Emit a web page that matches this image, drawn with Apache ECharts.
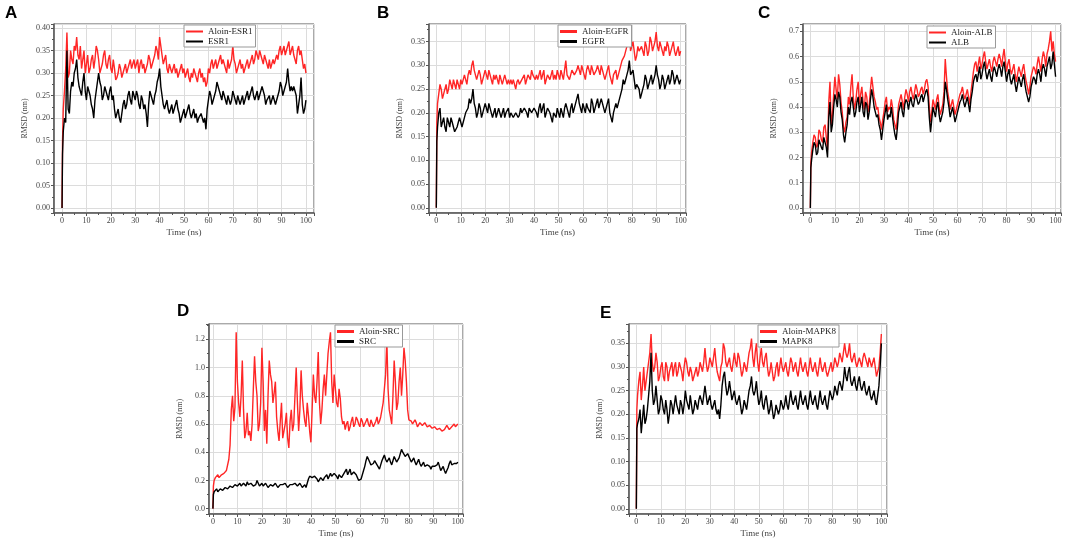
<!DOCTYPE html>
<html>
<head>
<meta charset="utf-8">
<script src="https://cdn.jsdelivr.net/npm/echarts@6/dist/echarts.min.js"></script>
<style>
html, body { margin: 0; padding: 0; background: #fff; }
#main { width: 1065px; height: 540px; }
</style>
</head>
<body>
<div id="main"></div>
<script>
// time axis (ns), shared by every trace
var time = [0, 0.2,
  0.5, 1, 1.5, 2, 2.5, 3, 3.5, 4, 4.5, 5, 5.5, 6, 6.5, 7, 7.5, 8, 8.5, 9, 9.5, 10,
  10.5, 11, 11.5, 12, 12.5, 13, 13.5, 14, 14.5, 15, 15.5, 16, 16.5, 17, 17.5, 18, 18.5, 19, 19.5, 20,
  20.5, 21, 21.5, 22, 22.5, 23, 23.5, 24, 24.5, 25, 25.5, 26, 26.5, 27, 27.5, 28, 28.5, 29, 29.5, 30,
  30.5, 31, 31.5, 32, 32.5, 33, 33.5, 34, 34.5, 35, 35.5, 36, 36.5, 37, 37.5, 38, 38.5, 39, 39.5, 40,
  40.5, 41, 41.5, 42, 42.5, 43, 43.5, 44, 44.5, 45, 45.5, 46, 46.5, 47, 47.5, 48, 48.5, 49, 49.5, 50,
  50.5, 51, 51.5, 52, 52.5, 53, 53.5, 54, 54.5, 55, 55.5, 56, 56.5, 57, 57.5, 58, 58.5, 59, 59.5, 60,
  60.5, 61, 61.5, 62, 62.5, 63, 63.5, 64, 64.5, 65, 65.5, 66, 66.5, 67, 67.5, 68, 68.5, 69, 69.5, 70,
  70.5, 71, 71.5, 72, 72.5, 73, 73.5, 74, 74.5, 75, 75.5, 76, 76.5, 77, 77.5, 78, 78.5, 79, 79.5, 80,
  80.5, 81, 81.5, 82, 82.5, 83, 83.5, 84, 84.5, 85, 85.5, 86, 86.5, 87, 87.5, 88, 88.5, 89, 89.5, 90,
  90.5, 91, 91.5, 92, 92.5, 93, 93.5, 94, 94.5, 95, 95.5, 96, 96.5, 97, 97.5, 98, 98.5, 99, 99.5, 100];

// A
var aloinESR1 = [0, 0.15,
  0.22, 0.26, 0.31, 0.39, 0.29, 0.30, 0.35, 0.33, 0.32, 0.36, 0.35, 0.38, 0.34, 0.33, 0.36, 0.31, 0.33, 0.35, 0.30, 0.32,
  0.34, 0.30, 0.31, 0.33, 0.34, 0.31, 0.33, 0.36, 0.35, 0.33, 0.30, 0.31, 0.32, 0.34, 0.35, 0.32, 0.31, 0.33, 0.34, 0.31,
  0.30, 0.33, 0.31, 0.285, 0.29, 0.30, 0.32, 0.31, 0.29, 0.30, 0.31, 0.32, 0.30, 0.31, 0.32, 0.33, 0.31, 0.32, 0.33, 0.31,
  0.32, 0.33, 0.30, 0.32, 0.33, 0.31, 0.32, 0.30, 0.31, 0.32, 0.34, 0.33, 0.31, 0.32, 0.33, 0.34, 0.36, 0.35, 0.33, 0.38,
  0.36, 0.34, 0.32, 0.33, 0.34, 0.31, 0.30, 0.32, 0.31, 0.30, 0.31, 0.32, 0.30, 0.31, 0.29, 0.30, 0.31, 0.32, 0.30, 0.31,
  0.29, 0.30, 0.31, 0.29, 0.28, 0.30, 0.29, 0.31, 0.30, 0.29, 0.28, 0.30, 0.31, 0.29, 0.30, 0.28, 0.29, 0.27, 0.28, 0.31,
  0.30, 0.32, 0.33, 0.31, 0.32, 0.33, 0.31, 0.32, 0.33, 0.34, 0.32, 0.33, 0.32, 0.31, 0.30, 0.33, 0.31, 0.32, 0.33, 0.36,
  0.33, 0.32, 0.30, 0.31, 0.32, 0.33, 0.31, 0.32, 0.30, 0.31, 0.32, 0.33, 0.31, 0.32, 0.33, 0.34, 0.32, 0.33, 0.35, 0.34,
  0.33, 0.35, 0.34, 0.33, 0.32, 0.34, 0.33, 0.32, 0.31, 0.33, 0.31, 0.32, 0.33, 0.32, 0.33, 0.34, 0.33, 0.35, 0.36, 0.34,
  0.35, 0.36, 0.34, 0.35, 0.36, 0.37, 0.34, 0.35, 0.36, 0.34, 0.33, 0.32, 0.35, 0.36, 0.34, 0.35, 0.33, 0.31, 0.32, 0.30];
var esr1 = [0, 0.12,
  0.17, 0.20, 0.19, 0.35, 0.22, 0.21, 0.26, 0.28, 0.27, 0.30, 0.31, 0.33, 0.29, 0.27, 0.26, 0.25, 0.28, 0.30, 0.26, 0.24,
  0.27, 0.27, 0.25, 0.23, 0.22, 0.20, 0.24, 0.26, 0.28, 0.30, 0.28, 0.27, 0.24, 0.25, 0.27, 0.26, 0.25, 0.24, 0.26, 0.27,
  0.24, 0.25, 0.22, 0.20, 0.21, 0.22, 0.20, 0.19, 0.21, 0.23, 0.24, 0.22, 0.23, 0.25, 0.26, 0.24, 0.23, 0.26, 0.25, 0.24,
  0.26, 0.25, 0.23, 0.22, 0.25, 0.24, 0.22, 0.23, 0.21, 0.18, 0.23, 0.26, 0.25, 0.24, 0.23, 0.25, 0.26, 0.28, 0.29, 0.31,
  0.27, 0.25, 0.23, 0.22, 0.23, 0.24, 0.22, 0.21, 0.22, 0.23, 0.21, 0.22, 0.23, 0.24, 0.22, 0.21, 0.19, 0.20, 0.21, 0.22,
  0.20, 0.21, 0.22, 0.23, 0.21, 0.20, 0.21, 0.22, 0.20, 0.21, 0.19, 0.20, 0.20, 0.21, 0.20, 0.19, 0.20, 0.175, 0.22, 0.24,
  0.26, 0.25, 0.23, 0.24, 0.25, 0.26, 0.28, 0.27, 0.26, 0.25, 0.24, 0.26, 0.25, 0.24, 0.23, 0.25, 0.24, 0.23, 0.24, 0.26,
  0.25, 0.24, 0.23, 0.25, 0.24, 0.23, 0.24, 0.25, 0.23, 0.24, 0.25, 0.26, 0.24, 0.25, 0.26, 0.27, 0.25, 0.24, 0.25, 0.26,
  0.24, 0.25, 0.26, 0.27, 0.26, 0.25, 0.23, 0.24, 0.24, 0.25, 0.23, 0.24, 0.25, 0.24, 0.23, 0.24, 0.25, 0.26, 0.28, 0.27,
  0.25, 0.26, 0.27, 0.28, 0.31, 0.28, 0.26, 0.27, 0.26, 0.27, 0.26, 0.25, 0.21, 0.23, 0.25, 0.29, 0.23, 0.21, 0.22, 0.24];

// B
var aloinEGFR = [0, 0.18,
  0.22, 0.24, 0.26, 0.25, 0.23, 0.24, 0.25, 0.26, 0.24, 0.25, 0.27, 0.26, 0.25, 0.27, 0.26, 0.25, 0.27, 0.26, 0.25, 0.27,
  0.26, 0.27, 0.28, 0.27, 0.26, 0.28, 0.29, 0.28, 0.30, 0.31, 0.29, 0.28, 0.27, 0.28, 0.29, 0.28, 0.26, 0.27, 0.28, 0.29,
  0.28, 0.27, 0.29, 0.28, 0.27, 0.26, 0.28, 0.27, 0.28, 0.27, 0.26, 0.28, 0.27, 0.26, 0.27, 0.28, 0.27, 0.26, 0.27, 0.26,
  0.27, 0.26, 0.27, 0.26, 0.25, 0.265, 0.27, 0.26, 0.26, 0.27, 0.27, 0.28, 0.26, 0.27, 0.28, 0.28, 0.27, 0.29, 0.28, 0.28,
  0.27, 0.28, 0.27, 0.28, 0.29, 0.27, 0.28, 0.29, 0.26, 0.27, 0.28, 0.28, 0.27, 0.28, 0.29, 0.27, 0.28, 0.27, 0.29, 0.28,
  0.27, 0.29, 0.28, 0.27, 0.29, 0.31, 0.28, 0.28, 0.27, 0.27, 0.29, 0.29, 0.28, 0.28, 0.29, 0.30, 0.29, 0.28, 0.30, 0.29,
  0.28, 0.27, 0.29, 0.30, 0.29, 0.28, 0.30, 0.29, 0.28, 0.28, 0.29, 0.30, 0.29, 0.28, 0.30, 0.29, 0.28, 0.27, 0.28, 0.29,
  0.30, 0.28, 0.27, 0.26, 0.28, 0.28, 0.29, 0.27, 0.28, 0.29, 0.30, 0.31, 0.31, 0.32, 0.33, 0.34, 0.35, 0.37, 0.33, 0.34,
  0.35, 0.33, 0.31, 0.32, 0.34, 0.33, 0.33, 0.34, 0.33, 0.32, 0.35, 0.34, 0.32, 0.33, 0.36, 0.35, 0.33, 0.34, 0.35, 0.37,
  0.34, 0.33, 0.35, 0.34, 0.33, 0.32, 0.34, 0.33, 0.35, 0.34, 0.32, 0.33, 0.34, 0.35, 0.33, 0.32, 0.33, 0.34, 0.32, 0.33];
var egfr = [0, 0.14,
  0.17, 0.20, 0.21, 0.17, 0.18, 0.19, 0.17, 0.16, 0.19, 0.18, 0.17, 0.19, 0.18, 0.17, 0.16, 0.16, 0.17, 0.18, 0.19, 0.19,
  0.17, 0.18, 0.19, 0.20, 0.20, 0.21, 0.23, 0.22, 0.23, 0.25, 0.22, 0.21, 0.19, 0.20, 0.22, 0.21, 0.19, 0.20, 0.21, 0.22,
  0.21, 0.20, 0.22, 0.21, 0.20, 0.19, 0.20, 0.21, 0.19, 0.20, 0.21, 0.21, 0.19, 0.20, 0.21, 0.19, 0.20, 0.20, 0.21, 0.19,
  0.20, 0.20, 0.19, 0.19, 0.20, 0.20, 0.19, 0.195, 0.21, 0.20, 0.20, 0.21, 0.21, 0.20, 0.19, 0.21, 0.21, 0.20, 0.20, 0.21,
  0.21, 0.20, 0.19, 0.21, 0.22, 0.20, 0.21, 0.22, 0.19, 0.20, 0.21, 0.21, 0.20, 0.19, 0.18, 0.20, 0.20, 0.19, 0.21, 0.20,
  0.19, 0.21, 0.20, 0.19, 0.21, 0.22, 0.21, 0.20, 0.19, 0.21, 0.22, 0.20, 0.21, 0.22, 0.23, 0.24, 0.22, 0.21, 0.20, 0.22,
  0.21, 0.20, 0.22, 0.21, 0.21, 0.20, 0.23, 0.22, 0.20, 0.21, 0.22, 0.23, 0.21, 0.21, 0.23, 0.22, 0.21, 0.20, 0.21, 0.22,
  0.23, 0.20, 0.19, 0.18, 0.20, 0.21, 0.22, 0.21, 0.22, 0.23, 0.24, 0.25, 0.27, 0.26, 0.27, 0.28, 0.29, 0.31, 0.28, 0.28,
  0.29, 0.27, 0.25, 0.26, 0.26, 0.25, 0.23, 0.24, 0.25, 0.26, 0.28, 0.27, 0.25, 0.26, 0.27, 0.28, 0.26, 0.27, 0.28, 0.30,
  0.28, 0.27, 0.25, 0.26, 0.28, 0.27, 0.25, 0.26, 0.27, 0.28, 0.26, 0.27, 0.29, 0.28, 0.26, 0.26, 0.28, 0.27, 0.26, 0.27];

// C
var aloinALB = [0, 0.18,
  0.22, 0.26, 0.29, 0.28, 0.24, 0.25, 0.31, 0.30, 0.27, 0.26, 0.32, 0.33, 0.28, 0.23, 0.42, 0.50, 0.33, 0.37, 0.45, 0.52,
  0.47, 0.43, 0.53, 0.49, 0.42, 0.38, 0.32, 0.30, 0.34, 0.36, 0.44, 0.41, 0.48, 0.53, 0.44, 0.39, 0.42, 0.47, 0.50, 0.41,
  0.45, 0.48, 0.42, 0.39, 0.46, 0.44, 0.38, 0.41, 0.47, 0.52, 0.48, 0.44, 0.42, 0.39, 0.40, 0.36, 0.34, 0.31, 0.35, 0.38,
  0.42, 0.44, 0.38, 0.40, 0.39, 0.43, 0.40, 0.35, 0.33, 0.31, 0.36, 0.41, 0.43, 0.45, 0.42, 0.39, 0.44, 0.47, 0.45, 0.42,
  0.46, 0.48, 0.45, 0.43, 0.46, 0.49, 0.47, 0.44, 0.45, 0.47, 0.48, 0.45, 0.47, 0.50, 0.51, 0.48, 0.40, 0.34, 0.38, 0.43,
  0.41, 0.39, 0.43, 0.45, 0.40, 0.37, 0.39, 0.41, 0.46, 0.59, 0.52, 0.46, 0.43, 0.39, 0.41, 0.43, 0.40, 0.37, 0.39, 0.41,
  0.43, 0.45, 0.46, 0.48, 0.45, 0.43, 0.45, 0.47, 0.44, 0.41, 0.46, 0.50, 0.54, 0.57, 0.58, 0.54, 0.57, 0.60, 0.55, 0.57,
  0.60, 0.62, 0.58, 0.55, 0.57, 0.59, 0.56, 0.54, 0.58, 0.60, 0.58, 0.56, 0.59, 0.61, 0.59, 0.56, 0.60, 0.63, 0.58, 0.54,
  0.57, 0.59, 0.55, 0.53, 0.55, 0.57, 0.53, 0.50, 0.53, 0.56, 0.54, 0.52, 0.55, 0.57, 0.53, 0.50, 0.48, 0.45, 0.48, 0.52,
  0.54, 0.56, 0.55, 0.53, 0.57, 0.60, 0.57, 0.54, 0.59, 0.62, 0.60, 0.56, 0.61, 0.63, 0.66, 0.70, 0.62, 0.66, 0.61, 0.58];
var alb = [0, 0.16,
  0.19, 0.23, 0.26, 0.25, 0.21, 0.22, 0.27, 0.27, 0.24, 0.23, 0.28, 0.28, 0.24, 0.20, 0.36, 0.42, 0.30, 0.33, 0.40, 0.45,
  0.43, 0.40, 0.46, 0.44, 0.38, 0.35, 0.29, 0.26, 0.30, 0.33, 0.40, 0.37, 0.42, 0.44, 0.40, 0.36, 0.38, 0.42, 0.44, 0.38,
  0.41, 0.44, 0.38, 0.36, 0.42, 0.41, 0.35, 0.38, 0.43, 0.47, 0.44, 0.40, 0.38, 0.36, 0.37, 0.33, 0.31, 0.27, 0.31, 0.35,
  0.38, 0.41, 0.35, 0.37, 0.36, 0.40, 0.36, 0.32, 0.29, 0.27, 0.32, 0.38, 0.40, 0.42, 0.38, 0.36, 0.41, 0.43, 0.42, 0.39,
  0.42, 0.44, 0.41, 0.40, 0.43, 0.45, 0.43, 0.41, 0.42, 0.44, 0.45, 0.42, 0.44, 0.46, 0.47, 0.44, 0.36, 0.30, 0.35, 0.40,
  0.38, 0.36, 0.40, 0.42, 0.37, 0.34, 0.36, 0.38, 0.42, 0.50, 0.47, 0.43, 0.40, 0.36, 0.38, 0.40, 0.37, 0.34, 0.36, 0.38,
  0.40, 0.42, 0.43, 0.45, 0.42, 0.40, 0.42, 0.44, 0.41, 0.38, 0.43, 0.46, 0.50, 0.52, 0.53, 0.50, 0.53, 0.56, 0.51, 0.53,
  0.56, 0.58, 0.54, 0.51, 0.53, 0.55, 0.52, 0.50, 0.54, 0.56, 0.54, 0.52, 0.55, 0.57, 0.55, 0.52, 0.56, 0.58, 0.54, 0.50,
  0.53, 0.55, 0.51, 0.49, 0.51, 0.53, 0.49, 0.46, 0.49, 0.52, 0.50, 0.48, 0.51, 0.53, 0.49, 0.46, 0.44, 0.42, 0.44, 0.48,
  0.50, 0.52, 0.51, 0.49, 0.53, 0.55, 0.53, 0.50, 0.55, 0.57, 0.55, 0.52, 0.56, 0.58, 0.60, 0.55, 0.57, 0.62, 0.57, 0.52];

// D
var aloinSRC = [0, 0.16,
  0.20, 0.22, 0.23, 0.24, 0.22, 0.23, 0.24, 0.25, 0.25, 0.26, 0.27, 0.28, 0.35, 0.45, 0.70, 0.80, 0.62, 0.72, 1.25, 0.90,
  0.75, 0.65, 0.80, 1.05, 0.70, 0.50, 0.55, 0.68, 0.52, 0.55, 0.48, 0.60, 0.85, 1.08, 0.90, 0.80, 0.55, 0.60, 0.75, 1.14,
  0.90, 0.55, 0.70, 0.46, 0.80, 1.05, 0.95, 0.90, 0.75, 0.82, 0.90, 0.65, 0.55, 0.48, 0.62, 0.75, 0.50, 0.55, 0.60, 0.68,
  0.50, 0.43, 0.62, 0.70, 0.55, 0.60, 0.80, 1.00, 0.75, 0.55, 0.70, 0.98, 0.80, 0.70, 0.62, 0.58, 0.75, 0.66, 0.55, 0.47,
  0.70, 0.95, 0.80, 0.75, 0.90, 1.11, 0.75, 0.60, 0.70, 0.85, 0.95, 0.80, 0.95, 1.10, 1.18, 1.25, 0.90, 0.75, 0.95, 0.85,
  0.75, 0.72, 0.85, 0.78, 0.65, 0.60, 0.62, 0.56, 0.60, 0.62, 0.55, 0.58, 0.62, 0.65, 0.58, 0.60, 0.65, 0.63, 0.60, 0.58,
  0.64, 0.62, 0.58, 0.60, 0.62, 0.64, 0.60, 0.58, 0.63, 0.62, 0.58, 0.60, 0.62, 0.65, 0.60, 0.62, 0.65, 0.70, 0.75, 0.85,
  0.95, 1.20, 0.85, 0.70, 0.65, 0.60, 0.80, 1.05, 0.90, 0.70, 0.75, 0.90, 1.00, 0.80, 0.95, 1.14, 1.05, 0.90, 0.70, 0.63,
  0.64, 0.62, 0.60, 0.60, 0.63, 0.61, 0.58, 0.59, 0.61, 0.60, 0.59, 0.58, 0.61, 0.60, 0.58, 0.57, 0.59, 0.58, 0.57, 0.56,
  0.58, 0.57, 0.56, 0.55, 0.57, 0.56, 0.55, 0.54, 0.56, 0.57, 0.59, 0.58, 0.56, 0.57, 0.58, 0.59, 0.60, 0.58, 0.59, 0.60];
var src = [0, 0.10,
  0.12, 0.13, 0.14, 0.12, 0.13, 0.14, 0.15, 0.13, 0.14, 0.15, 0.16, 0.14, 0.15, 0.16, 0.17, 0.15, 0.16, 0.17, 0.18, 0.16,
  0.17, 0.18, 0.16, 0.15, 0.18, 0.17, 0.16, 0.19, 0.17, 0.16, 0.18, 0.17, 0.16, 0.15, 0.17, 0.20, 0.18, 0.16, 0.17, 0.18,
  0.16, 0.15, 0.18, 0.17, 0.15, 0.16, 0.17, 0.18, 0.16, 0.15, 0.18, 0.17, 0.15, 0.16, 0.17, 0.18, 0.17, 0.16, 0.18, 0.17,
  0.15, 0.16, 0.17, 0.18, 0.17, 0.16, 0.18, 0.17, 0.16, 0.15, 0.18, 0.17, 0.15, 0.16, 0.17, 0.15, 0.18, 0.21, 0.23, 0.24,
  0.22, 0.21, 0.23, 0.22, 0.21, 0.19, 0.20, 0.22, 0.23, 0.20, 0.22, 0.23, 0.24, 0.21, 0.20, 0.25, 0.23, 0.22, 0.25, 0.24,
  0.23, 0.21, 0.24, 0.25, 0.22, 0.23, 0.25, 0.26, 0.28, 0.24, 0.26, 0.28, 0.24, 0.25, 0.26, 0.27, 0.24, 0.22, 0.20, 0.19,
  0.21, 0.22, 0.27, 0.30, 0.34, 0.37, 0.35, 0.33, 0.31, 0.30, 0.32, 0.34, 0.33, 0.31, 0.30, 0.28, 0.31, 0.34, 0.36, 0.38,
  0.35, 0.33, 0.34, 0.36, 0.33, 0.31, 0.34, 0.37, 0.35, 0.33, 0.34, 0.36, 0.39, 0.42, 0.40, 0.39, 0.37, 0.36, 0.39, 0.38,
  0.35, 0.33, 0.34, 0.36, 0.33, 0.31, 0.33, 0.35, 0.32, 0.30, 0.31, 0.33, 0.30, 0.29, 0.31, 0.32, 0.30, 0.28, 0.30, 0.31,
  0.30, 0.29, 0.31, 0.33, 0.30, 0.27, 0.28, 0.30, 0.27, 0.25, 0.27, 0.29, 0.32, 0.34, 0.31, 0.30, 0.32, 0.33, 0.32, 0.33];

// E
var aloinMAPK8 = [0, 0.21,
  0.24, 0.27, 0.29, 0.23, 0.26, 0.30, 0.25, 0.27, 0.29, 0.31, 0.33, 0.37, 0.31, 0.29, 0.30, 0.33, 0.31, 0.27, 0.28, 0.30,
  0.31, 0.28, 0.27, 0.31, 0.30, 0.27, 0.29, 0.30, 0.31, 0.28, 0.30, 0.31, 0.28, 0.29, 0.31, 0.30, 0.29, 0.27, 0.30, 0.32,
  0.31, 0.29, 0.28, 0.30, 0.29, 0.27, 0.28, 0.29, 0.30, 0.28, 0.29, 0.31, 0.30, 0.29, 0.31, 0.34, 0.31, 0.29, 0.30, 0.32,
  0.31, 0.30, 0.32, 0.34, 0.31, 0.29, 0.28, 0.27, 0.30, 0.31, 0.35, 0.34, 0.31, 0.30, 0.31, 0.32, 0.30, 0.29, 0.31, 0.33,
  0.31, 0.30, 0.33, 0.32, 0.30, 0.28, 0.29, 0.31, 0.30, 0.29, 0.31, 0.33, 0.34, 0.36, 0.32, 0.30, 0.33, 0.35, 0.31, 0.29,
  0.32, 0.34, 0.31, 0.30, 0.32, 0.33, 0.30, 0.28, 0.29, 0.31, 0.29, 0.27, 0.28, 0.30, 0.31, 0.28, 0.30, 0.32, 0.30, 0.29,
  0.30, 0.31, 0.29, 0.28, 0.30, 0.32, 0.31, 0.29, 0.30, 0.31, 0.29, 0.28, 0.30, 0.32, 0.30, 0.29, 0.30, 0.31, 0.29, 0.28,
  0.30, 0.32, 0.30, 0.29, 0.30, 0.31, 0.29, 0.28, 0.30, 0.32, 0.30, 0.29, 0.30, 0.31, 0.29, 0.28, 0.29, 0.30, 0.31, 0.29,
  0.30, 0.32, 0.31, 0.30, 0.31, 0.33, 0.32, 0.31, 0.33, 0.35, 0.33, 0.32, 0.33, 0.35, 0.32, 0.31, 0.32, 0.33, 0.31, 0.30,
  0.31, 0.32, 0.31, 0.30, 0.32, 0.33, 0.32, 0.31, 0.30, 0.32, 0.31, 0.30, 0.31, 0.32, 0.30, 0.28, 0.29, 0.30, 0.33, 0.37];
var mapk8 = [0, 0.17,
  0.18, 0.19, 0.21, 0.16, 0.19, 0.22, 0.18, 0.19, 0.21, 0.24, 0.27, 0.33, 0.25, 0.22, 0.23, 0.26, 0.23, 0.20, 0.21, 0.24,
  0.23, 0.21, 0.20, 0.23, 0.21, 0.18, 0.20, 0.23, 0.22, 0.20, 0.22, 0.24, 0.22, 0.21, 0.20, 0.23, 0.22, 0.20, 0.22, 0.25,
  0.23, 0.22, 0.21, 0.24, 0.22, 0.20, 0.21, 0.23, 0.22, 0.21, 0.23, 0.24, 0.23, 0.22, 0.24, 0.26, 0.24, 0.22, 0.23, 0.24,
  0.22, 0.21, 0.22, 0.23, 0.21, 0.20, 0.21, 0.19, 0.22, 0.26, 0.28, 0.29, 0.26, 0.24, 0.25, 0.27, 0.25, 0.23, 0.24, 0.25,
  0.23, 0.22, 0.23, 0.24, 0.22, 0.20, 0.21, 0.23, 0.22, 0.21, 0.23, 0.25, 0.26, 0.28, 0.25, 0.24, 0.25, 0.27, 0.24, 0.22,
  0.23, 0.25, 0.22, 0.21, 0.23, 0.24, 0.22, 0.20, 0.21, 0.23, 0.21, 0.19, 0.20, 0.22, 0.21, 0.20, 0.21, 0.23, 0.22, 0.21,
  0.22, 0.24, 0.22, 0.21, 0.23, 0.25, 0.23, 0.22, 0.23, 0.24, 0.22, 0.21, 0.23, 0.25, 0.23, 0.22, 0.23, 0.24, 0.22, 0.21,
  0.23, 0.25, 0.23, 0.22, 0.23, 0.24, 0.22, 0.21, 0.23, 0.25, 0.23, 0.22, 0.23, 0.24, 0.22, 0.21, 0.23, 0.25, 0.24, 0.23,
  0.24, 0.26, 0.25, 0.24, 0.26, 0.27, 0.26, 0.25, 0.27, 0.30, 0.28, 0.27, 0.29, 0.30, 0.27, 0.26, 0.27, 0.28, 0.26, 0.25,
  0.27, 0.28, 0.26, 0.25, 0.26, 0.27, 0.25, 0.24, 0.25, 0.26, 0.24, 0.23, 0.24, 0.25, 0.23, 0.22, 0.24, 0.26, 0.30, 0.35];

// layout of the five panels
var panels = [
  { letter: 'A', names: ['Aloin-ESR1', 'ESR1'], data: [aloinESR1, esr1],
    grid: [54, 24, 260, 189], x: [-3.3, 103.3], y: [-0.011, 0.409], step: 0.05, dec: 2,
    legend: [184, 25], icon: 2, tag: [5, 5] },
  { letter: 'B', names: ['Aloin-EGFR', 'EGFR'], data: [aloinEGFR, egfr],
    grid: [429, 24, 257, 189], x: [-3.0, 102.2], y: [-0.011, 0.387], step: 0.05, dec: 2,
    legend: [558, 25], icon: 3, tag: [377, 5] },
  { letter: 'C', names: ['Aloin-ALB', 'ALB'], data: [aloinALB, alb],
    grid: [803, 24, 258, 189], x: [-3.0, 102.2], y: [-0.020, 0.729], step: 0.1, dec: 1,
    legend: [927, 26], icon: 2, tag: [758, 5] },
  { letter: 'D', names: ['Aloin-SRC', 'SRC'], data: [aloinSRC, src],
    grid: [209, 324, 254, 190], x: [-1.6, 102.1], y: [-0.038, 1.309], step: 0.2, dec: 1,
    legend: [335, 325], icon: 3, tag: [177, 303] },
  { letter: 'E', names: ['Aloin-MAPK8', 'MAPK8'], data: [aloinMAPK8, mapk8],
    grid: [629, 324, 258, 190], x: [-3.0, 102.3], y: [-0.011, 0.391], step: 0.05, dec: 2,
    legend: [758, 325], icon: 3, tag: [600, 305] }
];

var colors = ['#ff2626', '#000000'];
var serif = 'Liberation Serif';
var ink = '#444';

function pairs(vals) {
  return vals.map(function (v, i) { return [time[i], v]; });
}

function onStep(v, step) {
  var k = v / step;
  return v > -1e-9 && Math.abs(k - Math.round(k)) < 1e-6;
}

var option = {
  backgroundColor: '#fff',
  animation: false,
  title: [], grid: [], xAxis: [], yAxis: [], legend: [], series: []
};

panels.forEach(function (p, i) {
  option.title.push({
    text: p.letter, left: p.tag[0], top: p.tag[1], padding: 0,
    textStyle: { fontFamily: 'Liberation Sans', fontWeight: 'bold', fontSize: 17, color: '#000' }
  });
  option.grid.push({
    left: p.grid[0], top: p.grid[1], width: p.grid[2], height: p.grid[3],
    show: true, borderColor: '#555', borderWidth: 1, containLabel: false
  });
  option.xAxis.push({
    type: 'value', gridIndex: i, min: p.x[0], max: p.x[1], splitNumber: 10,
    name: 'Time (ns)', nameLocation: 'middle', nameGap: 15,
    nameTextStyle: { fontFamily: serif, fontSize: 9, color: ink },
    axisLine: { onZero: false, lineStyle: { color: '#555', width: 1.5 } },
    axisTick: { length: 3, lineStyle: { color: '#555' } },
    minorTick: { show: true, splitNumber: 2, length: 2, lineStyle: { color: '#555' } },
    splitLine: { show: true, lineStyle: { color: '#dcdcdc', width: 1 } },
    axisLabel: {
      margin: 4, fontFamily: serif, fontSize: 8, color: ink,
      formatter: function (v) { return onStep(v, 10) ? String(Math.round(v)) : ''; }
    }
  });
  option.yAxis.push({
    type: 'value', gridIndex: i, min: p.y[0], max: p.y[1],
    splitNumber: Math.round((p.y[1] - p.y[0]) / p.step),
    name: 'RMSD (nm)', nameLocation: 'middle', nameGap: 25,
    nameTextStyle: { fontFamily: serif, fontSize: 8, color: ink },
    axisLine: { show: true, onZero: false, lineStyle: { color: '#555', width: 1.5 } },
    axisTick: { show: true, length: 3, lineStyle: { color: '#555' } },
    minorTick: { show: true, splitNumber: 2, length: 2, lineStyle: { color: '#555' } },
    splitLine: { show: true, lineStyle: { color: '#dcdcdc', width: 1 } },
    axisLabel: {
      margin: 4, fontFamily: serif, fontSize: 8, color: ink,
      formatter: function (v) { return onStep(v, p.step) ? v.toFixed(p.dec) : ''; }
    }
  });
  option.legend.push({
    data: p.names, left: p.legend[0], top: p.legend[1], orient: 'vertical',
    backgroundColor: '#fff', borderColor: '#999', borderWidth: 1,
    padding: [2, 3, 1, 2], itemGap: 1, itemWidth: 17, itemHeight: p.icon,
    icon: 'rect',
    textStyle: { fontFamily: serif, fontSize: 9, color: '#222' }
  });
  p.names.forEach(function (name, k) {
    option.series.push({
      name: name, type: 'line', xAxisIndex: i, yAxisIndex: i,
      data: pairs(p.data[k]), showSymbol: false, symbol: 'none',
      lineStyle: { color: colors[k], width: 1.4 },
      itemStyle: { color: colors[k] },
      z: 2 + k
    });
  });
});

var myChart = echarts.init(document.getElementById('main'), null, { renderer: 'canvas' });
myChart.setOption(option);
</script>
</body>
</html>
